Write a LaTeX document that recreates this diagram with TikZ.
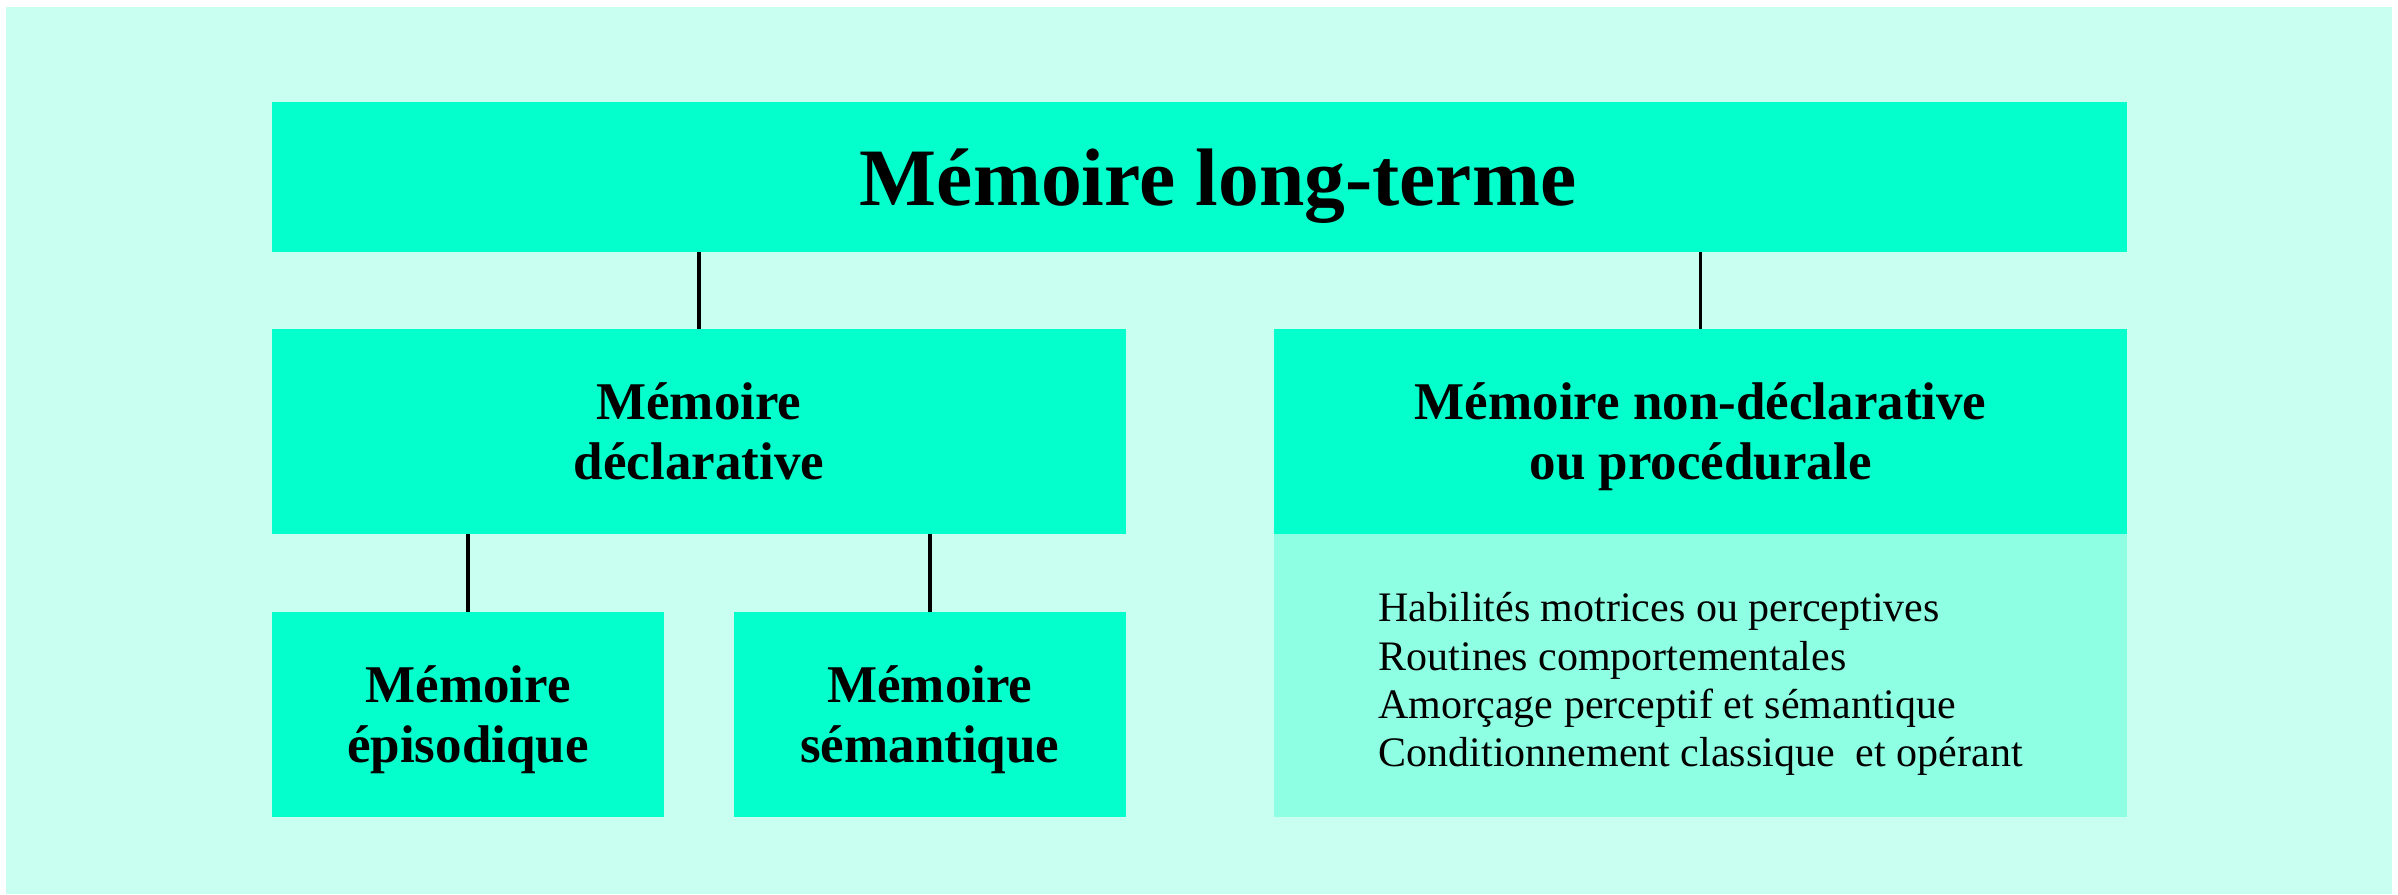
\documentclass[tikz,border=0pt]{standalone}
\usepackage{fontspec}
\setmainfont{Liberation Serif}
\usepackage{tikz}
\usepackage{xcolor}

\definecolor{bgmint}{RGB}{200,255,240}
\definecolor{boxmint}{RGB}{5,255,204}
\definecolor{listmint}{RGB}{142,255,226}

\tikzset{
  box/.style={fill=boxmint, inner sep=0pt, outer sep=0pt, align=center, text depth=0pt},
  titlefont/.style={font=\fontsize{40}{44}\selectfont\bfseries},
  levelfont/.style={font=\fontsize{26}{29.3}\selectfont\bfseries},
  listfont/.style={font=\fontsize{20.6}{23.6}\selectfont},
  link/.style={draw=black, line width=1.8pt},
}

\begin{document}
\begin{tikzpicture}[x=0.75pt,y=0.75pt,yscale=-1,xscale=1]
\useasboundingbox (0,0) rectangle (1568,584.6);

%Shape: Rectangle [background]
\fill [bgmint] (4,4.5) rectangle (1564,584.6) ;

% Text Node
\node (top) [box, titlefont, minimum width=909.75pt, minimum height=73.5pt] at (784.5,116) {\hspace*{18pt}Mémoire long-terme};
% Text Node
\node (decl) [box, levelfont, minimum width=418.5pt, minimum height=100.5pt] at (457,282) {Mémoire\\déclarative};
% Text Node
\node (nondecl) [box, levelfont, minimum width=418.5pt, minimum height=100.5pt] at (1112,282) {Mémoire non-déclarative\\ou procédurale};
% Text Node
\node (list) [box, fill=listmint, listfont, align=left, minimum width=418.5pt, minimum height=138.75pt] at (1112,441.5) {\rule{0pt}{18.5pt}Habilités motrices ou perceptives\\Routines comportementales\\Amorçage perceptif et sémantique\\Conditionnement classique~ et opérant};
% Text Node
\node (epi) [box, levelfont, minimum width=192pt, minimum height=100.5pt] at (306,467) {Mémoire\\épisodique};
% Text Node
\node (sem) [box, levelfont, minimum width=192pt, minimum height=100.5pt] at (608,467) {Mémoire\\sémantique};

%Straight Lines
\draw [link] (decl.north) -- (decl.north |- top.south) ;
\draw [link] (nondecl.north) -- (nondecl.north |- top.south) ;
\draw [link] (epi.north) -- (epi.north |- decl.south) ;
\draw [link] (sem.north) -- (sem.north |- decl.south) ;

\end{tikzpicture}
\end{document}
